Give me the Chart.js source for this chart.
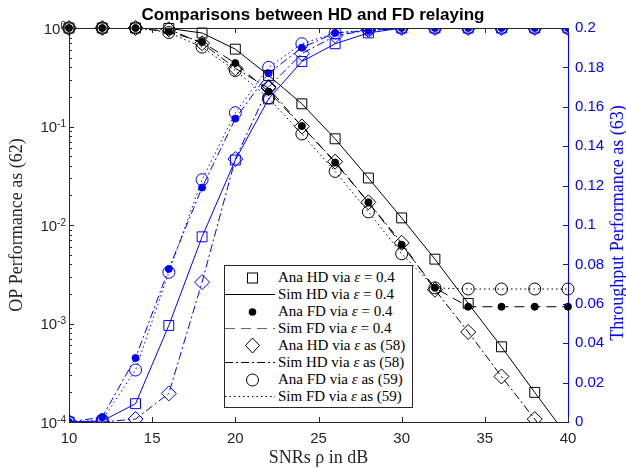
<!DOCTYPE html>
<html>
<head>
<meta charset="utf-8">
<title>Comparisons between HD and FD relaying</title>
<script src="https://cdn.jsdelivr.net/npm/chart.js@4.4.1/dist/chart.umd.min.js"></script>
<style>
    html, body { margin: 0; padding: 0; background: #fff; }
    #wrap { position: relative; width: 626px; height: 470px; }
    #legendBox {
        position: absolute; left: 224px; top: 265px; width: 189px; height: 143px;
        box-sizing: border-box; border: 1px solid #262626; background: #fff;
        font-family: 'Liberation Serif', serif; font-size: 15px; color: #000;
    }
    .row { position: absolute; left: 0; width: 187px; height: 17px; line-height: 17px; white-space: nowrap; }
    .row svg { position: absolute; left: 0; top: 0; }
    .row span { position: absolute; left: 53px; top: 0; }
    #rightTitle {
        position: absolute; left: 467px; top: 214px; width: 300px; height: 18px;
        line-height: 18px; text-align: center; white-space: nowrap;
        font-family: 'Liberation Serif', serif; font-size: 18px; color: #0000ff;
        transform: rotate(-90deg); transform-origin: 150px 9px;
    }
</style>
</head>
<body>
<div id="wrap">
    <canvas id="relayChart" width="626" height="470"></canvas>
    <div id="legendBox"></div>
    <div id="rightTitle">Throughput Performance as (63)</div>
</div>
<script>
// x values (SNR in dB)
var snrDb = [10, 12, 14, 16, 18, 20, 22, 24, 26, 28, 30, 32, 34, 36, 38, 40];

// outage probability, left axis (log)
var opHd04 = [1, 1, 1, 0.99, 0.89, 0.61, 0.33, 0.17, 0.075, 0.030, 0.0118, 0.0045, 0.0016, 0.00058, 0.0002, 0.00007];
var opFd04 = [1, 1, 1, 0.92, 0.72, 0.44, 0.226, 0.101, 0.043, 0.017, 0.0063, 0.0023, 0.00148, 0.00148, 0.00148, 0.00148];
var opHd58 = [1, 1, 1, 0.97, 0.70, 0.39, 0.245, 0.10, 0.044, 0.017, 0.0066, 0.0022, 0.00082, 0.00029, 0.000107, 0.000038];
var opFd59 = [1, 1, 1, 0.90, 0.64, 0.37, 0.195, 0.084, 0.035, 0.0136, 0.0051, 0.0023, 0.00224, 0.00224, 0.00224, 0.00224];

// throughput, right axis
var tpHd04 = [0, 0.0005, 0.0093, 0.049, 0.094, 0.133, 0.164, 0.183, 0.192, 0.1975, 0.2, 0.2, 0.2, 0.2, 0.2, 0.2];
var tpFd04 = [0, 0.0025, 0.0325, 0.0777, 0.119, 0.154, 0.177, 0.19, 0.1975, 0.1985, 0.2, 0.2, 0.2, 0.2, 0.2, 0.2];
var tpHd58 = [0, 0, 0.0015, 0.0145, 0.071, 0.1335, 0.17, 0.187, 0.196, 0.199, 0.2, 0.2, 0.2, 0.2, 0.2, 0.2];
var tpFd59 = [0, 0.001, 0.0264, 0.076, 0.123, 0.157, 0.18, 0.192, 0.1975, 0.199, 0.2, 0.2, 0.2, 0.2, 0.2, 0.2];

// tick labels
var xTickValues = [10, 15, 20, 25, 30, 35, 40];
var opTickValues = [1e-4, 1e-3, 1e-2, 1e-1, 1];
var opTickExps = ['-4', '-3', '-2', '-1', '0'];
var tpTickValues = [0, 0.02, 0.04, 0.06, 0.08, 0.1, 0.12, 0.14, 0.16, 0.18, 0.2];

var legendLabels = [
    'Ana HD via <i>\u03B5</i> = 0.4',
    'Sim HD via <i>\u03B5</i> = 0.4',
    'Ana FD via <i>\u03B5</i> = 0.4',
    'Sim FD via <i>\u03B5</i> = 0.4',
    'Ana HD via <i>\u03B5</i> as (58)',
    'Sim HD via <i>\u03B5</i> as (58)',
    'Ana FD via <i>\u03B5</i> as (59)',
    'Sim FD via <i>\u03B5</i> as (59)'
];

var BLACK = '#000000';
var BLUE = '#0000ff';
var DASH = [10, 6];
var DASHDOT = [8, 3, 2, 3];
var DOT = [1.5, 3];
var SANS = "'Liberation Sans', Arial, sans-serif";

var toPoints = function (values) {
    var out = [];
    for (var i = 0; i < snrDb.length; i++) {
        out.push({ x: snrDb[i], y: values[i] });
    }
    return out;
};

var lineSet = function (label, values, axis, color, dash) {
    return {
        label: label, data: toPoints(values), yAxisID: axis,
        borderColor: color, borderWidth: 1, borderDash: dash,
        pointRadius: 0, fill: false, tension: 0, order: 2
    };
};

var markerSet = function (label, values, axis, color, style, radius, filled) {
    return {
        label: label, data: toPoints(values), yAxisID: axis, showLine: false,
        pointStyle: style, pointRadius: radius, pointBorderWidth: 1,
        pointBorderColor: color, pointBackgroundColor: filled ? color : 'rgba(0,0,0,0)',
        borderColor: color, order: 1,
        clip: axis === 'y' ? { left: 8, top: 8, right: 8, bottom: 0 } : 0
    };
};

var datasets = [
    lineSet('Sim HD via eps = 0.4', opHd04, 'y', BLACK, []),
    lineSet('Sim FD via eps = 0.4', opFd04, 'y', BLACK, DASH),
    lineSet('Sim HD via eps as (58)', opHd58, 'y', BLACK, DASHDOT),
    lineSet('Sim FD via eps as (59)', opFd59, 'y', BLACK, DOT),
    lineSet('Tp Sim HD 0.4', tpHd04, 'y1', BLUE, []),
    lineSet('Tp Sim FD 0.4', tpFd04, 'y1', BLUE, DASHDOT),
    lineSet('Tp Sim HD 58', tpHd58, 'y1', BLUE, DASHDOT),
    lineSet('Tp Sim FD 59', tpFd59, 'y1', BLUE, DOT),
    markerSet('Ana HD via eps = 0.4', opHd04, 'y', BLACK, 'rect', 7, false),
    markerSet('Ana FD via eps = 0.4', opFd04, 'y', BLACK, 'circle', 3.5, true),
    markerSet('Ana HD via eps as (58)', opHd58, 'y', BLACK, 'rectRot', 7.5, false),
    markerSet('Ana FD via eps as (59)', opFd59, 'y', BLACK, 'circle', 6, false),
    markerSet('Tp Ana HD 0.4', tpHd04, 'y1', BLUE, 'rect', 7, false),
    markerSet('Tp Ana FD 0.4', tpFd04, 'y1', BLUE, 'circle', 3.5, true),
    markerSet('Tp Ana HD 58', tpHd58, 'y1', BLUE, 'rectRot', 7.5, false),
    markerSet('Tp Ana FD 59', tpFd59, 'y1', BLUE, 'circle', 6, false)
];

// inward tick marks, top box line and 10^k labels, matlab style
var axisMarks = {
    id: 'axisMarks',
    afterDraw: function (chart) {
        var ctx = chart.ctx;
        var a = chart.chartArea;
        var sx = chart.scales.x, sl = chart.scales.y, sr = chart.scales.y1;
        var i, p, k, m, ew;
        ctx.save();
        ctx.lineWidth = 1;
        ctx.strokeStyle = '#262626';
        ctx.beginPath();
        ctx.moveTo(a.left, Math.round(a.top) + 0.5);
        ctx.lineTo(a.right, Math.round(a.top) + 0.5);
        for (i = 0; i < xTickValues.length; i++) {
            p = Math.round(sx.getPixelForValue(xTickValues[i])) + 0.5;
            ctx.moveTo(p, a.bottom); ctx.lineTo(p, a.bottom - 5);
            ctx.moveTo(p, a.top); ctx.lineTo(p, a.top + 5);
        }
        for (k = -4; k <= 0; k++) {
            p = Math.round(sl.getPixelForValue(Math.pow(10, k))) + 0.5;
            ctx.moveTo(a.left, p); ctx.lineTo(a.left + 5, p);
            if (k < 0) {
                for (m = 2; m <= 9; m++) {
                    p = Math.round(sl.getPixelForValue(m * Math.pow(10, k))) + 0.5;
                    ctx.moveTo(a.left, p); ctx.lineTo(a.left + 3, p);
                }
            }
        }
        ctx.stroke();
        ctx.strokeStyle = BLUE;
        ctx.beginPath();
        for (i = 0; i < tpTickValues.length; i++) {
            p = Math.round(sr.getPixelForValue(tpTickValues[i])) + 0.5;
            ctx.moveTo(a.right, p); ctx.lineTo(a.right - 5, p);
        }
        ctx.stroke();

        ctx.fillStyle = '#262626';
        ctx.textAlign = 'right';
        ctx.textBaseline = 'alphabetic';
        for (i = 0; i < opTickValues.length; i++) {
            p = sl.getPixelForValue(opTickValues[i]);
            ctx.font = '10px ' + SANS;
            ew = ctx.measureText(opTickExps[i]).width;
            ctx.fillText(opTickExps[i], a.left - 3, p + 0.5);
            ctx.font = '15px ' + SANS;
            ctx.fillText('10', a.left - 3 - ew, p + 5.5);
        }
        ctx.restore();
    }
};

Chart.defaults.font.family = SANS;

new Chart(document.getElementById('relayChart'), {
    type: 'line',
    data: { datasets: datasets },
    plugins: [axisMarks],
    options: {
        responsive: false,
        animation: false,
        layout: { padding: 0 },
        plugins: {
            legend: { display: false },
            tooltip: { enabled: false },
            title: {
                display: true,
                text: 'Comparisons between HD and FD relaying',
                color: '#000',
                font: { size: 17, weight: 'bold', lineHeight: '20px' },
                padding: { top: 5, bottom: 3 }
            }
        },
        scales: {
            x: {
                type: 'linear', min: 10, max: 40,
                afterBuildTicks: function (scale) {
                    scale.ticks = xTickValues.map(function (v) { return { value: v }; });
                },
                afterFit: function (scale) { scale.height = 48; },
                grid: { display: false, drawTicks: false },
                border: { display: true, color: '#262626', width: 1 },
                ticks: { color: '#262626', font: { size: 15 }, padding: 8, maxRotation: 0 },
                title: {
                    display: true, text: 'SNRs \u03C1 in dB', color: '#262626',
                    font: { family: "'Liberation Serif', serif", size: 18, lineHeight: 1 },
                    padding: { top: 0, bottom: 3 }
                }
            },
            y: {
                type: 'logarithmic', position: 'left', min: 1e-4, max: 1,
                afterBuildTicks: function (scale) {
                    scale.ticks = opTickValues.map(function (v) { return { value: v }; });
                },
                afterFit: function (scale) { scale.width = 69; },
                grid: { display: false, drawTicks: false },
                border: { display: true, color: '#262626', width: 1 },
                ticks: { display: false },
                title: {
                    display: true, text: 'OP Performance as (62)', color: '#262626',
                    font: { family: "'Liberation Serif', serif", size: 18, lineHeight: 1 },
                    padding: { top: 8, bottom: 0 }
                }
            },
            y1: {
                type: 'linear', position: 'right', min: 0, max: 0.2,
                afterBuildTicks: function (scale) {
                    scale.ticks = tpTickValues.map(function (v) { return { value: v }; });
                },
                afterFit: function (scale) { scale.width = 58; },
                grid: { display: false, drawTicks: false },
                border: { display: true, color: BLUE, width: 1 },
                ticks: {
                    color: BLUE, font: { size: 15 }, padding: 7,
                    callback: function (v) { return String(parseFloat(Number(v).toFixed(2))); }
                },
                title: { display: false }
            }
        }
    }
});

// legend drawn as html so the labels stay text
var legendSample = function (i) {
    var svg = '<svg width="50" height="17" xmlns="http://www.w3.org/2000/svg">';
    var c = 'stroke-width="1" fill="none"';
    if (i === 0) svg += '<rect x="22.5" y="4" width="10" height="10" stroke="#000" ' + c + '/>';
    if (i === 1) svg += '<line x1="0" y1="8.5" x2="50" y2="8.5" stroke="#000" stroke-width="1"/>';
    if (i === 2) svg += '<circle cx="27.5" cy="9" r="3.8" fill="#000"/>';
    if (i === 3) svg += '<line x1="0" y1="8.5" x2="50" y2="8.5" stroke="#666" stroke-width="1.2" stroke-dasharray="10,6"/>';
    if (i === 4) svg += '<polygon points="27.5,1 34.5,8.5 27.5,16 20.5,8.5" stroke="#000" ' + c + '/>';
    if (i === 5) svg += '<line x1="0" y1="8.5" x2="50" y2="8.5" stroke="#000" stroke-width="1" stroke-dasharray="8,3,2,3"/>';
    if (i === 6) svg += '<circle cx="27.5" cy="9" r="6" stroke="#000" ' + c + '/>';
    if (i === 7) svg += '<line x1="0" y1="8.5" x2="50" y2="8.5" stroke="#000" stroke-width="1" stroke-dasharray="1.5,3"/>';
    return svg + '</svg>';
};

var legendBox = document.getElementById('legendBox');
for (var r = 0; r < legendLabels.length; r++) {
    var row = document.createElement('div');
    row.className = 'row';
    row.style.top = (2.5 + 17 * r) + 'px';
    row.innerHTML = legendSample(r) + '<span>' + legendLabels[r] + '</span>';
    legendBox.appendChild(row);
}
</script>
</body>
</html>
